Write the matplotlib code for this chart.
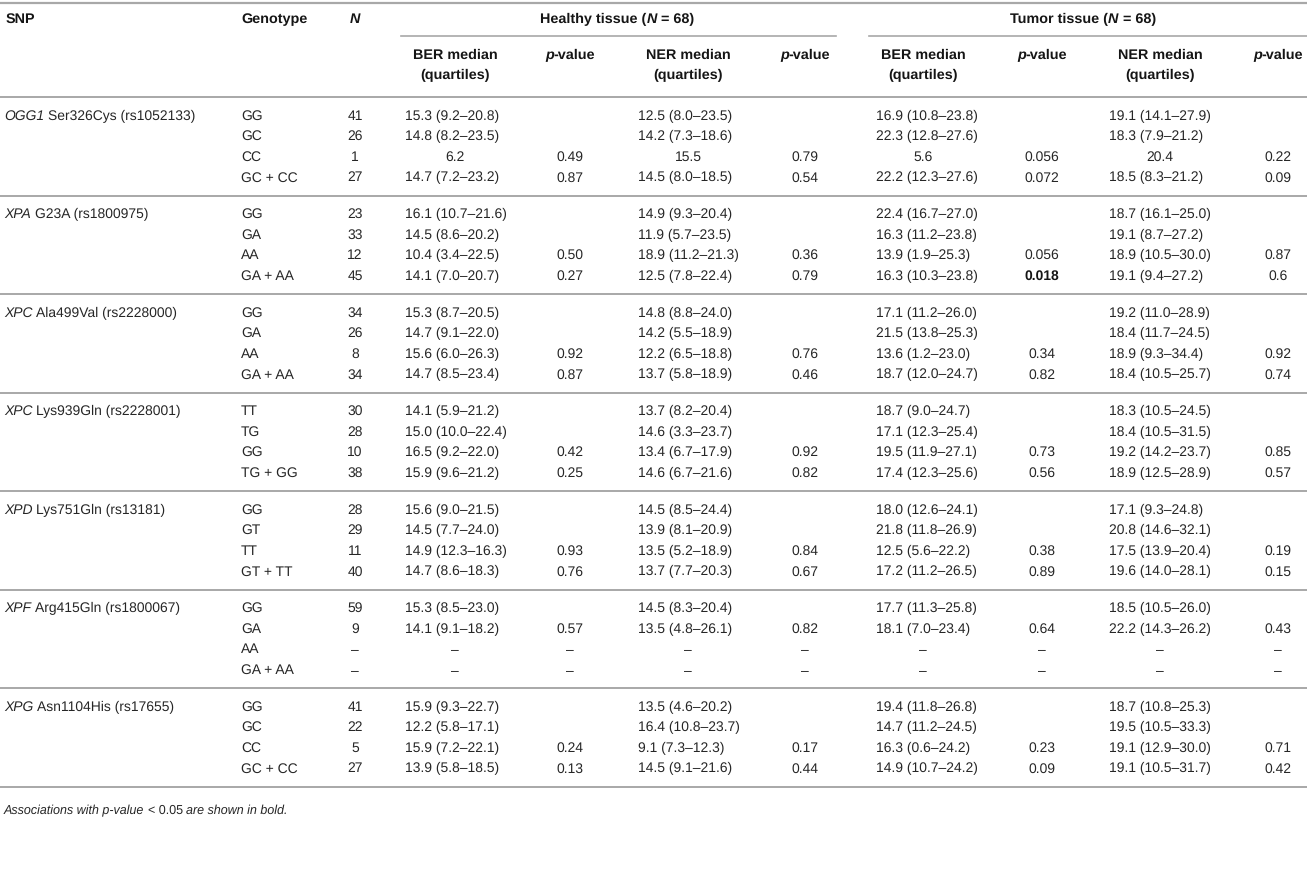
import matplotlib
matplotlib.use("Agg")
import matplotlib.pyplot as plt

plt.rcParams["text.hinting"] = "no_hinting"

# ── table data ─────────────────────────────────────────────
SNP_GENES = ["OGG1", "XPA", "XPC", "XPC", "XPD", "XPF", "XPG"]
SNP_NAMES = ["Ser326Cys (rs1052133)", "G23A (rs1800975)", "Ala499Val (rs2228000)",
             "Lys939Gln (rs2228001)", "Lys751Gln (rs13181)", "Arg415Gln (rs1800067)",
             "Asn1104His (rs17655)"]
GENOTYPES = [
    ["GG", "GC", "CC", "GC + CC"],
    ["GG", "GA", "AA", "GA + AA"],
    ["GG", "GA", "AA", "GA + AA"],
    ["TT", "TG", "GG", "TG + GG"],
    ["GG", "GT", "TT", "GT + TT"],
    ["GG", "GA", "AA", "GA + AA"],
    ["GG", "GC", "CC", "GC + CC"],
]
N_VALUES = [
    ["41", "26", "1", "27"],
    ["23", "33", "12", "45"],
    ["34", "26", "8", "34"],
    ["30", "28", "10", "38"],
    ["28", "29", "11", "40"],
    ["59", "9", "–", "–"],
    ["41", "22", "5", "27"],
]
H_BER = [
    ["15.3 (9.2–20.8)", "14.8 (8.2–23.5)", "6.2", "14.7 (7.2–23.2)"],
    ["16.1 (10.7–21.6)", "14.5 (8.6–20.2)", "10.4 (3.4–22.5)", "14.1 (7.0–20.7)"],
    ["15.3 (8.7–20.5)", "14.7 (9.1–22.0)", "15.6 (6.0–26.3)", "14.7 (8.5–23.4)"],
    ["14.1 (5.9–21.2)", "15.0 (10.0–22.4)", "16.5 (9.2–22.0)", "15.9 (9.6–21.2)"],
    ["15.6 (9.0–21.5)", "14.5 (7.7–24.0)", "14.9 (12.3–16.3)", "14.7 (8.6–18.3)"],
    ["15.3 (8.5–23.0)", "14.1 (9.1–18.2)", "–", "–"],
    ["15.9 (9.3–22.7)", "12.2 (5.8–17.1)", "15.9 (7.2–22.1)", "13.9 (5.8–18.5)"],
]
H_BER_P = [
    ["", "", "0.49", "0.87"],
    ["", "", "0.50", "0.27"],
    ["", "", "0.92", "0.87"],
    ["", "", "0.42", "0.25"],
    ["", "", "0.93", "0.76"],
    ["", "0.57", "–", "–"],
    ["", "", "0.24", "0.13"],
]
H_NER = [
    ["12.5 (8.0–23.5)", "14.2 (7.3–18.6)", "15.5", "14.5 (8.0–18.5)"],
    ["14.9 (9.3–20.4)", "11.9 (5.7–23.5)", "18.9 (11.2–21.3)", "12.5 (7.8–22.4)"],
    ["14.8 (8.8–24.0)", "14.2 (5.5–18.9)", "12.2 (6.5–18.8)", "13.7 (5.8–18.9)"],
    ["13.7 (8.2–20.4)", "14.6 (3.3–23.7)", "13.4 (6.7–17.9)", "14.6 (6.7–21.6)"],
    ["14.5 (8.5–24.4)", "13.9 (8.1–20.9)", "13.5 (5.2–18.9)", "13.7 (7.7–20.3)"],
    ["14.5 (8.3–20.4)", "13.5 (4.8–26.1)", "–", "–"],
    ["13.5 (4.6–20.2)", "16.4 (10.8–23.7)", "9.1 (7.3–12.3)", "14.5 (9.1–21.6)"],
]
H_NER_P = [
    ["", "", "0.79", "0.54"],
    ["", "", "0.36", "0.79"],
    ["", "", "0.76", "0.46"],
    ["", "", "0.92", "0.82"],
    ["", "", "0.84", "0.67"],
    ["", "0.82", "–", "–"],
    ["", "", "0.17", "0.44"],
]
T_BER = [
    ["16.9 (10.8–23.8)", "22.3 (12.8–27.6)", "5.6", "22.2 (12.3–27.6)"],
    ["22.4 (16.7–27.0)", "16.3 (11.2–23.8)", "13.9 (1.9–25.3)", "16.3 (10.3–23.8)"],
    ["17.1 (11.2–26.0)", "21.5 (13.8–25.3)", "13.6 (1.2–23.0)", "18.7 (12.0–24.7)"],
    ["18.7 (9.0–24.7)", "17.1 (12.3–25.4)", "19.5 (11.9–27.1)", "17.4 (12.3–25.6)"],
    ["18.0 (12.6–24.1)", "21.8 (11.8–26.9)", "12.5 (5.6–22.2)", "17.2 (11.2–26.5)"],
    ["17.7 (11.3–25.8)", "18.1 (7.0–23.4)", "–", "–"],
    ["19.4 (11.8–26.8)", "14.7 (11.2–24.5)", "16.3 (0.6–24.2)", "14.9 (10.7–24.2)"],
]
T_BER_P = [
    ["", "", "0.056", "0.072"],
    ["", "", "0.056", "0.018"],
    ["", "", "0.34", "0.82"],
    ["", "", "0.73", "0.56"],
    ["", "", "0.38", "0.89"],
    ["", "0.64", "–", "–"],
    ["", "", "0.23", "0.09"],
]
T_NER = [
    ["19.1 (14.1–27.9)", "18.3 (7.9–21.2)", "20.4", "18.5 (8.3–21.2)"],
    ["18.7 (16.1–25.0)", "19.1 (8.7–27.2)", "18.9 (10.5–30.0)", "19.1 (9.4–27.2)"],
    ["19.2 (11.0–28.9)", "18.4 (11.7–24.5)", "18.9 (9.3–34.4)", "18.4 (10.5–25.7)"],
    ["18.3 (10.5–24.5)", "18.4 (10.5–31.5)", "19.2 (14.2–23.7)", "18.9 (12.5–28.9)"],
    ["17.1 (9.3–24.8)", "20.8 (14.6–32.1)", "17.5 (13.9–20.4)", "19.6 (14.0–28.1)"],
    ["18.5 (10.5–26.0)", "22.2 (14.3–26.2)", "–", "–"],
    ["18.7 (10.8–25.3)", "19.5 (10.5–33.3)", "19.1 (12.9–30.0)", "19.1 (10.5–31.7)"],
]
T_NER_P = [
    ["", "", "0.22", "0.09"],
    ["", "", "0.87", "0.6"],
    ["", "", "0.92", "0.74"],
    ["", "", "0.85", "0.57"],
    ["", "", "0.19", "0.15"],
    ["", "0.43", "–", "–"],
    ["", "", "0.71", "0.42"],
]
BOLD_CELLS = {("T_BER_P", 1, 3)}   # p < 0.05

# ── layout (figure pixels) ─────────────────────────────────
W, H = 1307, 876
FONT = "Liberation Sans"
FS = 10.0       # body
FS_HEAD = 10.4  # header
TXT = "#262626"
HEAD = "#151515"
RULE = "#a8a8a8"

X_SNP, X_GENO, X_N = 4, 241, 355
# (name, values, left edge for "value (q1–q3)" cells, centre of column)
COLS = [
    ("H_BER", H_BER, 405, 455),
    ("H_BER_P", H_BER_P, None, 570),
    ("H_NER", H_NER, 638, 688),
    ("H_NER_P", H_NER_P, None, 805),
    ("T_BER", T_BER, 876, 923),
    ("T_BER_P", T_BER_P, None, 1042),
    ("T_NER", T_NER, 1109, 1160),
    ("T_NER_P", T_NER_P, None, 1278),
]
ROW0, ROW_STEP, GROUP_STEP = 116, 20.6, 98.5

fig = plt.figure(figsize=(W / 100, H / 100), dpi=100)
fig.patch.set_facecolor("white")
ax = fig.add_axes([0, 0, 1, 1])
ax.set_xlim(0, W)
ax.set_ylim(H, 0)
ax.axis("off")
renderer = fig.canvas.get_renderer()


def text_width(s, weight, style, size):
    t = ax.text(0, 0, s, fontsize=size, fontweight=weight, fontstyle=style, family=FONT)
    w = t.get_window_extent(renderer).width
    t.remove()
    return w


def draw_runs(x, y, runs, ha="left", size=FS, color=TXT):
    """runs: list of (text, weight, style); draws mixed-style text on one line."""
    space = text_width("a a", "normal", "normal", size) - text_width("aa", "normal", "normal", size)
    pieces = []
    for s, wgt, sty in runs:
        lead = len(s) - len(s.lstrip(" "))
        trail = len(s) - len(s.rstrip(" "))
        core = s.strip(" ")
        w = text_width(core, wgt, sty, size) if core else 0
        pieces.append((core, wgt, sty, lead * space, w, trail * space))
    total = sum(a + b + c for _, _, _, a, b, c in pieces)
    cur = x if ha == "left" else x - total / 2
    for core, wgt, sty, a, w, c in pieces:
        cur += a
        if core:
            ax.text(cur, y, core, fontsize=size, fontweight=wgt, fontstyle=sty,
                    family=FONT, color=color, va="center", ha="left")
        cur += w + c


def cell(x, y, s, ha="left", bold=False, size=FS, color=TXT):
    ax.text(x, y, s, fontsize=size, family=FONT, color=color, va="center", ha=ha,
            fontweight="bold" if bold else "normal")


# ── header ─────────────────────────────────────────────────
ax.plot([0, W], [2.5, 2.5], color=RULE, lw=1.6, solid_capstyle="butt")
HY1 = 19
cell(X_SNP + 2, HY1, "SNP", bold=True, size=FS_HEAD, color=HEAD)
cell(X_GENO, HY1, "Genotype", bold=True, size=FS_HEAD, color=HEAD)
draw_runs(X_N, HY1, [("N", "bold", "italic")], ha="center", size=FS_HEAD, color=HEAD)
draw_runs(617, HY1, [("Healthy tissue (", "bold", "normal"), ("N", "bold", "italic"),
                     (" = 68)", "bold", "normal")], ha="center", size=FS_HEAD, color=HEAD)
draw_runs(1083, HY1, [("Tumor tissue (", "bold", "normal"), ("N", "bold", "italic"),
                      (" = 68)", "bold", "normal")], ha="center", size=FS_HEAD, color=HEAD)
ax.plot([401, 836], [36, 36], color=RULE, lw=1.2)
ax.plot([869, W], [36, 36], color=RULE, lw=1.2)

HY2, HY3 = 55, 75
for name, _, left, centre in COLS:
    if name.endswith("_P"):
        draw_runs(centre, HY2, [("p", "bold", "italic"), ("-value", "bold", "normal")],
                  ha="center", size=FS_HEAD, color=HEAD)
    else:
        label = name.split("_")[1] + " median"
        ax.text(centre, HY2, label, fontsize=FS_HEAD, family=FONT, color=HEAD,
                va="center", ha="center", fontweight="bold")
        ax.text(centre, HY3, "(quartiles)", fontsize=FS_HEAD, family=FONT, color=HEAD,
                va="center", ha="center", fontweight="bold")
ax.plot([0, W], [96.5, 96.5], color=RULE, lw=1.4)

# ── body ───────────────────────────────────────────────────
for g in range(len(SNP_GENES)):
    gy = ROW0 + g * GROUP_STEP
    draw_runs(X_SNP, gy, [(SNP_GENES[g], "normal", "italic"),
                          (" " + SNP_NAMES[g], "normal", "normal")])
    for r in range(4):
        y = gy + r * ROW_STEP
        cell(X_GENO, y, GENOTYPES[g][r])
        cell(X_N, y, N_VALUES[g][r], ha="center")
        for name, values, left, centre in COLS:
            s = values[g][r]
            if not s:
                continue
            bold = (name, g, r) in BOLD_CELLS
            if left is not None and "(" in s:
                cell(left, y, s, bold=bold)
            else:
                cell(centre, y, s, ha="center", bold=bold,
                     color=HEAD if bold else TXT)
    ax.plot([0, W], [gy + 79.5, gy + 79.5], color=RULE, lw=1.4)

# ── footnote ───────────────────────────────────────────────
draw_runs(X_SNP, 811, [("Associations with p-value ", "normal", "italic"),
                       ("< 0.05", "normal", "normal"),
                       (" are shown in bold.", "normal", "italic")], size=9.0)

fig.savefig("out.png", dpi=100, facecolor=fig.get_facecolor())
